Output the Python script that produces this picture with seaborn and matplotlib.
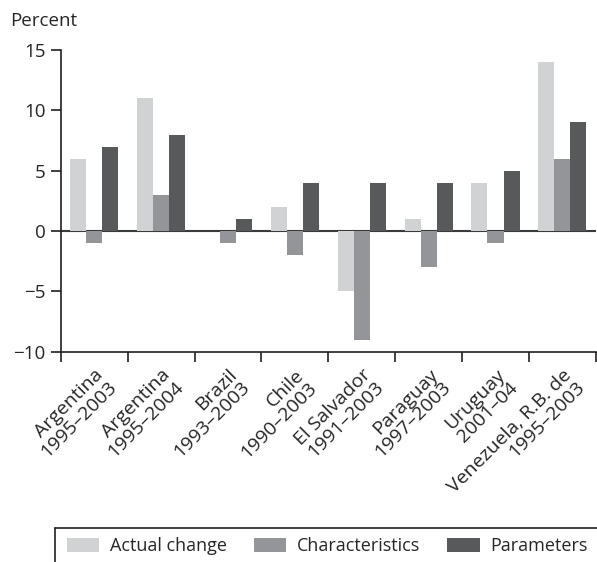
import matplotlib
matplotlib.use("Agg")
import matplotlib.pyplot as plt
import seaborn as sns
import pandas as pd
from matplotlib.lines import Line2D

categories = [
    "Argentina\n1995–2003",
    "Argentina\n1995–2004",
    "Brazil\n1993–2003",
    "Chile\n1990–2003",
    "El Salvador\n1991–2003",
    "Paraguay\n1997–2003",
    "Uruguay\n2001–04",
    "Venezuela, R.B. de\n1995–2003",
]
actual_change = [6, 11, 0, 2, -5, 1, 4, 14]
characteristics = [-1, 3, -1, -2, -9, -3, -1, 6]
parameters = [7, 8, 1, 4, 4, 4, 5, 9]
series_names = ["Actual change", "Characteristics", "Parameters"]
y_ticks = [-10, -5, 0, 5, 10, 15]
colors = ["#d1d2d4", "#939598", "#58595b"]


def main():
    sns.set_style("white")
    plt.rcParams["font.family"] = ["Open Sans", "DejaVu Sans"]
    plt.rcParams["font.size"] = 13

    rows = []
    for name, vals in zip(series_names, [actual_change, characteristics, parameters]):
        for cat, v in zip(categories, vals):
            rows.append({"category": cat, "series": name, "value": v})
    df = pd.DataFrame(rows)

    fig = plt.figure(figsize=(5.97, 5.62), dpi=100)
    ax = fig.add_axes([0.102, 0.374, 0.896, 0.537])
    sns.barplot(data=df, x="category", y="value", hue="series",
                palette=colors, width=0.72, gap=0, saturation=1,
                edgecolor="none", linewidth=0, ax=ax)

    ax.set_ylim(-10, 15)
    ax.set_xlim(-0.5, 7.5)
    ax.set_yticks(y_ticks)
    ax.set_yticklabels([str(t).replace("-", "\u2212") for t in y_ticks],
                       fontsize=13.5)
    ax.axhline(0, color="#3a3a3a", lw=1.5, zorder=0.5)

    centers = list(range(len(categories)))
    ax.set_xticks(centers)
    ax.set_xticklabels(categories, rotation=45, ha="right", fontsize=14,
                       rotation_mode="anchor", multialignment="right",
                       linespacing=1.0)
    ax.tick_params(axis="x", which="major", length=0, pad=10)
    ax.set_xticks([i - 0.5 for i in range(len(categories) + 1)], minor=True)
    ax.tick_params(axis="x", which="minor", length=7, width=1.2,
                   color="#231f20", direction="out", bottom=True)
    ax.tick_params(axis="y", length=7, width=1.2, color="#231f20",
                   direction="out", left=True, pad=4)

    for side in ["top", "right"]:
        ax.spines[side].set_visible(False)
    for side in ["left", "bottom"]:
        ax.spines[side].set_color("#231f20")
        ax.spines[side].set_linewidth(1.2)

    ax.set_xlabel("")
    ax.set_ylabel("")
    fig.text(10 / 597, 1 - 21 / 562, "Percent", ha="left", va="center",
             fontsize=13.5)

    handles, labels = ax.get_legend_handles_labels()
    ax.get_legend().remove()
    fig.legend(handles, labels, loc="center left",
               bbox_to_anchor=(67 / 597, 1 - 546 / 562), ncol=3,
               frameon=False, fontsize=13, handlelength=1.78,
               handleheight=0.78, handletextpad=0.6, columnspacing=1.5,
               borderaxespad=0, borderpad=0)

    fig.add_artist(Line2D([55 / 597, 1.0], [1 - 528 / 562] * 2,
                          transform=fig.transFigure, color="#231f20", lw=1.2))
    fig.add_artist(Line2D([55 / 597] * 2, [1 - 528 / 562, 0],
                          transform=fig.transFigure, color="#231f20", lw=1.2))

    fig.savefig("out.png", dpi=100)
    plt.close(fig)


if __name__ == "__main__":
    main()
